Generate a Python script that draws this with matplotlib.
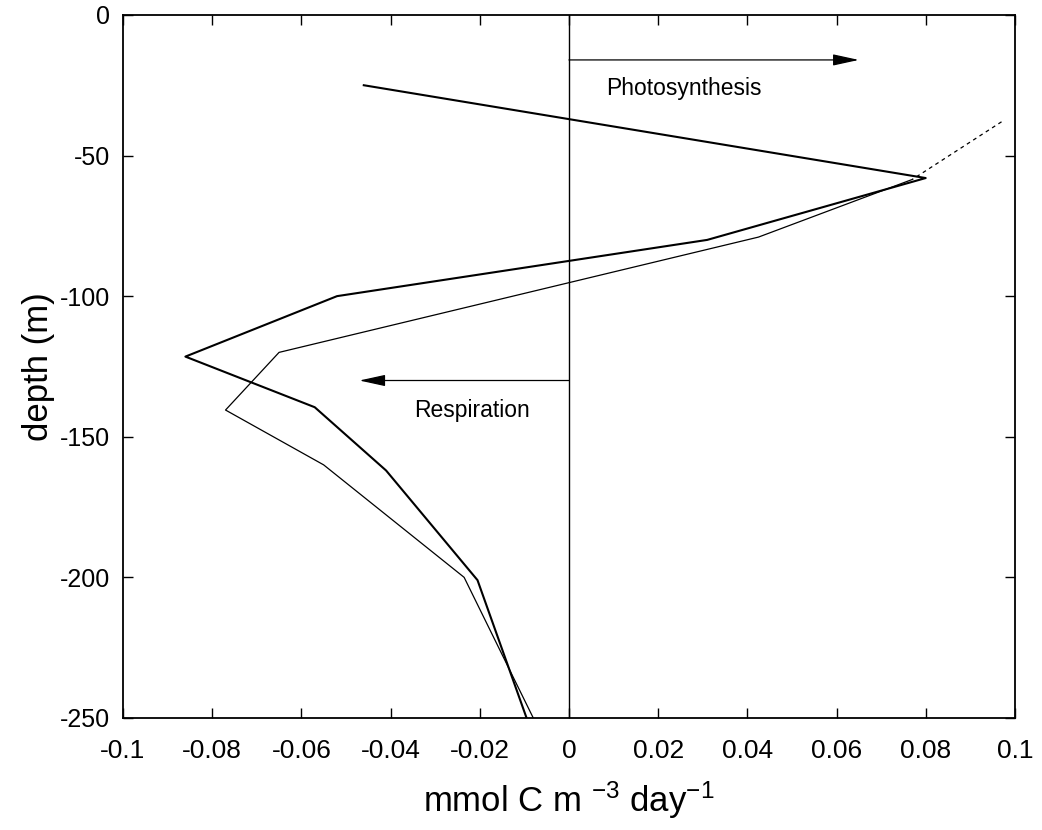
import matplotlib
matplotlib.use("Agg")
import matplotlib.pyplot as plt

plt.rcParams['font.family'] = ['Liberation Sans', 'DejaVu Sans']
plt.rcParams['mathtext.fontset'] = 'custom'
plt.rcParams['mathtext.rm'] = 'Liberation Sans'
plt.rcParams['mathtext.it'] = 'Liberation Sans'
plt.rcParams['mathtext.default'] = 'regular'

# Data
thick_x = [-0.046, 0.080, 0.031, -0.052, -0.086, -0.057, -0.041, -0.0205, -0.0095]
thick_y = [-25, -58, -80, -100, -121.5, -139.5, -162, -201, -250]

thin_x = [0.077, 0.0425, -0.065, -0.077, -0.055, -0.0235, -0.008]
thin_y = [-58.5, -79, -120, -140.5, -160, -200, -250]

dash_x = [0.097, 0.077]
dash_y = [-38, -58.5]

xticks = [-0.1, -0.08, -0.06, -0.04, -0.02, 0, 0.02, 0.04, 0.06, 0.08, 0.1]
xticklabels = ['-0.1', '-0.08', '-0.06', '-0.04', '-0.02', '0', '0.02', '0.04', '0.06', '0.08', '0.1']
yticks = [0, -50, -100, -150, -200, -250]
yticklabels = ['0', '-50', '-100', '-150', '-200', '-250']

fig = plt.figure(figsize=(10.42, 8.30), dpi=100)
ax = fig.add_axes([0.118, 0.135, 0.856, 0.847])

ax.plot(thick_x, thick_y, color='black', lw=1.5)
ax.plot(thin_x, thin_y, color='black', lw=0.9)
ax.plot(dash_x, dash_y, color='black', lw=0.9, linestyle=(0, (3, 3)))
ax.plot([0, 0], [0, -250], color='black', lw=1.0)

ax.annotate('', xy=(0.065, -16), xytext=(0, -16),
            arrowprops=dict(arrowstyle='-|>,head_length=1.6,head_width=0.35', color='black', lw=0.9,
                            shrinkA=0, shrinkB=0))
ax.annotate('', xy=(-0.047, -130), xytext=(0, -130),
            arrowprops=dict(arrowstyle='-|>,head_length=1.6,head_width=0.35', color='black', lw=0.9,
                            shrinkA=0, shrinkB=0))
ax.text(0.0083, -26, 'Photosynthesis', fontsize=16.5, va='center', ha='left')
ax.text(-0.0348, -140.5, 'Respiration', fontsize=16.5, va='center', ha='left')

ax.set_xlim(-0.1, 0.1)
ax.set_ylim(-250, 0)
ax.set_xticks(xticks)
ax.set_xticklabels(xticklabels, fontsize=19)
ax.set_yticks(yticks)
ax.set_yticklabels(yticklabels, fontsize=18)
ax.tick_params(direction='in', top=True, right=True, length=7, width=1.0)
ax.tick_params(axis='x', pad=15)
ax.tick_params(axis='y', pad=9)
for s in ax.spines.values():
    s.set_linewidth(1.3)

ax.set_xlabel('mmol C m $^{-3}$ day$^{-1}$', fontsize=25, labelpad=12)
ax.set_ylabel('depth (m)', fontsize=25, labelpad=4)

fig.savefig('out.png', dpi=100)
